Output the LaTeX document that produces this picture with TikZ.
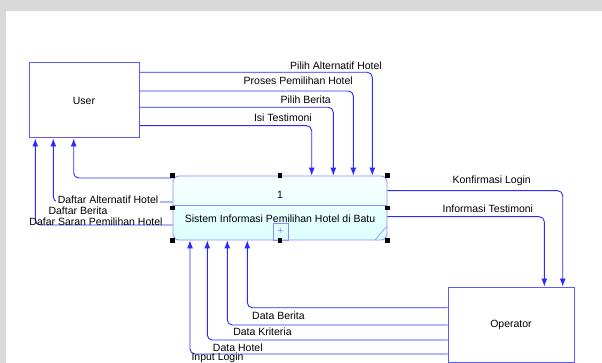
\documentclass[tikz,border=0pt]{standalone}
\usepackage{fontspec}
\setmainfont{Liberation Sans}
\usepackage{tikz}
\usetikzlibrary{positioning,arrows.meta,calc}
\definecolor{flowblue}{HTML}{2B2BFF}
\definecolor{boxblue}{HTML}{5A5AFF}
\definecolor{procblue}{HTML}{8C8CFF}
\definecolor{bggray}{HTML}{D9D9D9}

\tikzset{
  entity/.style={draw=boxblue, line width=1pt, fill=white, inner sep=0pt},
  flow/.style={flowblue, line width=0.9pt, rounded corners=5pt, -{Latex[length=8pt,width=6pt]}},
  flowlabel/.style={inner sep=1pt},
  coverlabel/.style={flowlabel, fill=white, inner sep=2pt},
}

\begin{document}
\begin{tikzpicture}[x=1pt,y=-1pt,font=\fontsize{10.5}{12}\selectfont]
        \useasboundingbox (0,0) rectangle (602,363);
        % Background
        \fill[bggray] (0,0) rectangle (602,363);
        \fill[white] (6,11) rectangle (602,363);
        % External entities
        \node[entity, minimum width=110pt, minimum height=75pt] (user) at (84,100.5) {User};
        \node[entity, minimum width=126pt, minimum height=75pt] (op) at (511,324.5) {Operator};
        % Process
        \node[draw=procblue, line width=0.8pt, rounded corners=6pt, top color=cyan!3, bottom color=cyan!14,
          minimum width=214pt, minimum height=64pt, inner sep=0pt] (proc) at (280,208) {};
        \draw[procblue, line width=0.8pt] (proc.west |- 0,205.5) -- (proc.east |- 0,205.5);
        \node at (280,194.5) {1};
        \node at (280,219) {Sistem Informasi Pemilihan Hotel di Batu};
        \draw[procblue, line width=0.6pt] (273,223) rectangle (288,240);
        \node[procblue] at (280.5,231.5) {+};
        \draw[procblue, line width=0.6pt] (375,240) -- (387,226);
        % User -> Process
        \draw[flow] (user.east |- 0,72.3) -| (372.3,0 |- proc.north);
        \draw[flow] (user.east |- 0,91) -| (353.3,0 |- proc.north);
        \draw[flow] (user.east |- 0,107.3) -| (333.3,0 |- proc.north);
        \draw[flow] (user.east |- 0,125.7) -| (311.7,0 |- proc.north);
        \node[flowlabel, anchor=east] at (383,66) {Pilih Alternatif Hotel};
        \node[flowlabel, anchor=east] at (354,81) {Proses Pemilihan Hotel};
        \node[flowlabel, anchor=east] at (332,99.3) {Pilih Berita};
        \node[flowlabel, anchor=east] at (313,117.7) {Isi Testimoni};
        % Process -> User
        \draw[flow] (proc.west |- 0,178) -| (73.7,0 |- user.south);
        \draw[flow] (proc.west |- 0,202) -| (53.3,0 |- user.south);
        \draw[flow] (proc.west |- 0,225) -| (35.3,0 |- user.south);
        \node[coverlabel] at (108,199.5) {Daftar Alternatif Hotel};
        \node[flowlabel] at (78,211) {Daftar Berita};
        \node[flowlabel] at (96,221.5) {Dafar Saran Pemilihan Hotel};
        % Process -> Operator
        \draw[flow] (proc.east |- 0,190.7) -| (562.7,0 |- op.north);
        \draw[flow] (proc.east |- 0,216.7) -| (544.3,0 |- op.north);
        \node[flowlabel] at (491.7,181) {Konfirmasi Login};
        \node[flowlabel] at (487.8,208.3) {Informasi Testimoni};
        % Operator -> Process
        \draw[flow] (op.west |- 0,307.7) -| (247.3,0 |- proc.south);
        \draw[flow] (op.west |- 0,325) -| (227.3,0 |- proc.south);
        \draw[flow] (op.west |- 0,340) -| (207.3,0 |- proc.south);
        \draw[flow] (op.west |- 0,354) -| (190,0 |- proc.south);
        \node[flowlabel] at (278.5,316) {Data Berita};
        \node[coverlabel] at (262.5,331.7) {Data Kriteria};
        \node[coverlabel] at (237.8,347.3) {Data Hotel};
        \node[flowlabel] at (217.5,357.6) {Input Login};
        % Selection handles
        \foreach \a in {north west,north,north east,west,east,south west,south,south east}
          \fill (proc.\a) ++(-2.2,-2.2) rectangle ++(4.4,4.4);
      \end{tikzpicture}
\end{document}
